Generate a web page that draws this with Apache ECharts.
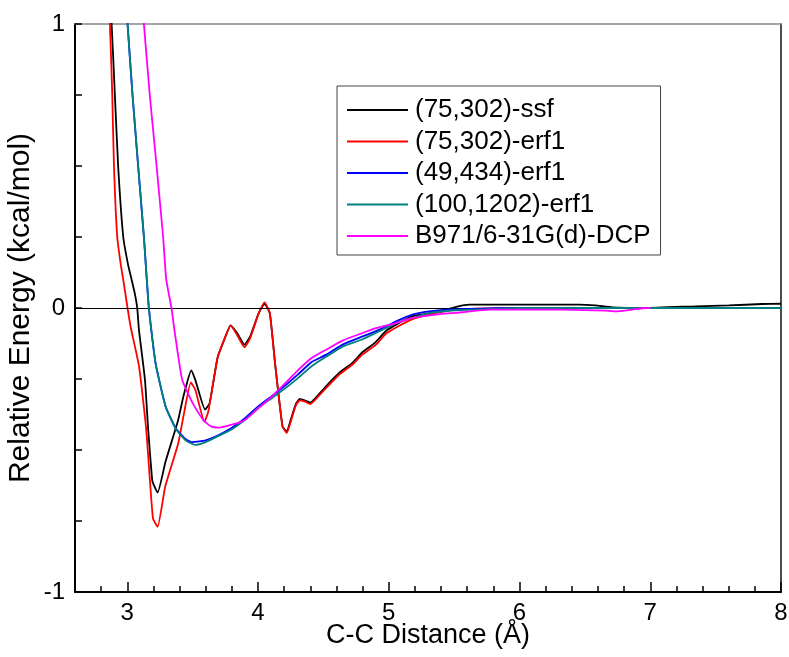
<!DOCTYPE html>
<html><head><meta charset="utf-8">
<script src="https://cdn.jsdelivr.net/npm/echarts@6/dist/echarts.min.js"></script>
<style>html,body{margin:0;padding:0;background:#fff}#c{width:789px;height:657px}</style>
</head><body><div id="c"></div>
<script>
var seriesNames = ['(75,302)-ssf', '(75,302)-erf1', '(49,434)-erf1', '(100,1202)-erf1', 'B971/6-31G(d)-DCP'];
var xTickLabels = [3, 4, 5, 6, 7, 8];
var xMinorTicks = [2.8, 3.2, 3.4, 3.6, 3.8, 4.2, 4.4, 4.6, 4.8, 5.2, 5.4, 5.6, 5.8, 6.2, 6.4, 6.6, 6.8, 7.2, 7.4, 7.6, 7.8];
var yTickLabels = [-1, 0, 1];

var ssfX = [2.86, 2.88, 2.905, 2.93, 2.969, 3.007, 3.033, 3.058, 3.076, 3.089, 3.135, 3.16, 3.19, 3.20, 3.232, 3.293, 3.386, 3.43, 3.489, 3.52, 3.595, 3.63, 3.69, 3.746, 3.79, 3.84, 3.896, 3.94, 4.005, 4.05, 4.09, 4.13, 4.187, 4.22, 4.25, 4.29, 4.32, 4.36, 4.40, 4.44, 4.52, 4.62, 4.72, 4.80, 4.90, 4.98, 5.07, 5.18, 5.386, 5.51, 5.615, 5.82, 6.455, 6.58, 6.71, 6.96, 7.35, 7.60, 7.854, 8.0];
var ssfY = [1.1, 1.0, 0.75, 0.5, 0.25, 0.15, 0.1, 0.05, 0, -0.076, -0.252, -0.43, -0.605, -0.62, -0.65, -0.54, -0.40, -0.31, -0.22, -0.253, -0.358, -0.335, -0.176, -0.106, -0.061, -0.088, -0.129, -0.10, -0.018, 0.015, -0.018, -0.194, -0.417, -0.435, -0.394, -0.337, -0.32, -0.326, -0.333, -0.317, -0.276, -0.229, -0.194, -0.155, -0.12, -0.08, -0.055, -0.029, -0.012, 0.0035, 0.012, 0.012, 0.012, 0.009, 0.002, 0, 0.006, 0.009, 0.014, 0.015];

var erfX = [2.85, 2.867, 2.885, 2.898, 2.923, 2.951, 2.969, 3.002, 3.025, 3.09, 3.145, 3.196, 3.232, 3.29, 3.39, 3.43, 3.486, 3.52, 3.59, 3.62, 3.69, 3.746, 3.79, 3.84, 3.896, 3.94, 4.005, 4.05, 4.09, 4.13, 4.187, 4.22, 4.25, 4.29, 4.32, 4.36, 4.40, 4.44, 4.52, 4.62, 4.72, 4.80, 4.90, 4.98, 5.07, 5.18, 5.31, 5.51, 5.69, 6.0, 7.0, 8.0];
var erfY = [1.1, 1.0, 0.75, 0.5, 0.25, 0.15, 0.1, 0, -0.065, -0.206, -0.429, -0.74, -0.77, -0.629, -0.476, -0.38, -0.262, -0.288, -0.40, -0.364, -0.176, -0.106, -0.061, -0.095, -0.138, -0.106, -0.018, 0.02, -0.018, -0.194, -0.417, -0.44, -0.40, -0.342, -0.325, -0.33, -0.338, -0.322, -0.282, -0.235, -0.2, -0.163, -0.13, -0.09, -0.065, -0.039, -0.023, -0.006, -0.002, 0, 0, 0];

var e49X = [2.99, 3.002, 3.04, 3.083, 3.127, 3.165, 3.216, 3.293, 3.37, 3.446, 3.49, 3.55, 3.60, 3.70, 3.80, 3.90, 4.005, 4.107, 4.21, 4.31, 4.41, 4.52, 4.65, 4.80, 4.93, 5.056, 5.18, 5.31, 5.44, 5.69, 6.0, 7.0, 8.0];
var e49Y = [1.1, 1.0, 0.75, 0.5, 0.25, 0, -0.194, -0.347, -0.423, -0.462, -0.472, -0.47, -0.466, -0.447, -0.422, -0.388, -0.345, -0.31, -0.272, -0.232, -0.19, -0.165, -0.128, -0.10, -0.076, -0.047, -0.023, -0.012, -0.006, -0.002, 0, 0, 0];

var e100X = [2.99, 3.002, 3.04, 3.083, 3.127, 3.165, 3.216, 3.293, 3.37, 3.446, 3.52, 3.60, 3.70, 3.80, 3.90, 4.005, 4.107, 4.21, 4.31, 4.41, 4.52, 4.65, 4.80, 5.056, 5.18, 5.31, 5.51, 5.77, 6.0, 7.0, 8.0];
var e100Y = [1.1, 1.0, 0.75, 0.5, 0.25, 0, -0.194, -0.347, -0.425, -0.466, -0.482, -0.472, -0.45, -0.427, -0.394, -0.35, -0.317, -0.282, -0.245, -0.205, -0.172, -0.135, -0.11, -0.053, -0.035, -0.018, -0.008, -0.004, 0, 0, 0];

var dcpX = [3.11, 3.127, 3.172, 3.224, 3.274, 3.298, 3.338, 3.36, 3.42, 3.50, 3.58, 3.64, 3.70, 3.80, 3.90, 4.005, 4.107, 4.21, 4.31, 4.41, 4.52, 4.65, 4.80, 4.90, 5.056, 5.18, 5.36, 5.56, 5.77, 6.33, 6.66, 6.73, 6.86, 6.96, 7.0];
var dcpY = [1.1, 1.0, 0.75, 0.5, 0.25, 0.1, 0, -0.076, -0.253, -0.335, -0.394, -0.417, -0.421, -0.411, -0.394, -0.352, -0.311, -0.264, -0.217, -0.176, -0.147, -0.114, -0.088, -0.071, -0.053, -0.035, -0.023, -0.015, -0.006, -0.006, -0.009, -0.012, -0.006, 0, 0];

var colors = ['#000000', '#ff0000', '#0000ff', '#008080', '#ff00ff'];
var allX = [ssfX, erfX, e49X, e100X, dcpX];
var allY = [ssfY, erfY, e49Y, e100Y, dcpY];

function zip(xs, ys) { return xs.map(function (x, i) { return [x, ys[i]]; }); }

var FONT = 'Liberation Sans, Arial, sans-serif';
var series = seriesNames.map(function (n, i) {
  var s = {
    name: n, type: 'line', data: zip(allX[i], allY[i]),
    xAxisIndex: 0, yAxisIndex: 0,
    symbol: 'none', smooth: 0.15, clip: true,
    lineStyle: { color: colors[i], width: 1.8 }, itemStyle: { color: colors[i] },
    z: 3 + i
  };
  if (i === 0) {
    s.markLine = { silent: true, symbol: ['none', 'none'], label: { show: false },
      lineStyle: { color: '#000', width: 1, type: 'solid' }, data: [{ yAxis: 0 }] };
  }
  return s;
});

var gridBox = { left: 75, right: 8, top: 24, bottom: 65, containLabel: false, outerBoundsMode: 'none' };
var chart = echarts.init(document.getElementById('c'), null, { renderer: 'canvas' });
chart.setOption({
  animation: false,
  backgroundColor: '#fff',
  textStyle: { fontFamily: FONT },
  grid: [Object.assign({}, gridBox), Object.assign({}, gridBox)],
  legend: {
    left: 337, top: 86, orient: 'vertical',
    data: seriesNames, icon: 'rect', itemWidth: 61, itemHeight: 2, itemGap: 5.5,
    padding: [11, 10, 6, 10],
    backgroundColor: '#fff', borderColor: '#444', borderWidth: 1,
    textStyle: { fontSize: 26, color: '#000', fontFamily: FONT, lineHeight: 24, padding: [0, 0, 0, 2] }
  },
  xAxis: [
    { gridIndex: 0, type: 'value', min: 2.6, max: 8, position: 'bottom',
      axisLine: { show: true, onZero: false, lineStyle: { color: '#000', width: 2 } },
      axisTick: { show: true, inside: true, length: 10, customValues: xTickLabels, lineStyle: { color: '#000', width: 1.5 } },
      axisLabel: { show: true, customValues: xTickLabels, fontSize: 24, color: '#000', margin: 9, fontFamily: FONT },
      splitLine: { show: false },
      name: 'C-C Distance (Å)', nameLocation: 'middle', nameGap: 30, nameMoveOverlap: false,
      nameTextStyle: { fontSize: 27, color: '#000', fontFamily: FONT } },
    { gridIndex: 0, type: 'value', min: 2.6, max: 8, position: 'top',
      axisLine: { show: true, onZero: false, lineStyle: { color: '#888', width: 1.5 } },
      axisTick: { show: false }, axisLabel: { show: false }, splitLine: { show: false } },
    { gridIndex: 1, type: 'value', min: 2.6, max: 8, position: 'bottom',
      axisLine: { show: false, onZero: false },
      axisTick: { show: true, inside: true, length: 6, customValues: xMinorTicks, lineStyle: { color: '#000', width: 1.5 } },
      axisLabel: { show: false }, splitLine: { show: false } }
  ],
  yAxis: [
    { gridIndex: 0, type: 'value', min: -1, max: 1, interval: 0.25, position: 'left',
      axisLine: { show: true, onZero: false, lineStyle: { color: '#000', width: 2 } },
      axisTick: { show: true, inside: true, length: 7, lineStyle: { color: '#000', width: 1.5 } },
      axisLabel: { show: true, customValues: yTickLabels, fontSize: 24, color: '#000', margin: 10, fontFamily: FONT },
      splitLine: { show: false },
      name: 'Relative Energy (kcal/mol)', nameLocation: 'middle', nameGap: 39, nameRotate: 90, nameMoveOverlap: false,
      nameTextStyle: { fontSize: 30, color: '#000', fontFamily: FONT } },
    { gridIndex: 0, type: 'value', min: -1, max: 1, position: 'right',
      axisLine: { show: true, onZero: false, lineStyle: { color: '#111', width: 1.5 } },
      axisTick: { show: false }, axisLabel: { show: false }, splitLine: { show: false } },
    { gridIndex: 1, type: 'value', min: -1, max: 1, position: 'left',
      axisLine: { show: false, onZero: false }, axisTick: { show: false },
      axisLabel: { show: false }, splitLine: { show: false } }
  ],
  series: series
});
</script></body></html>
